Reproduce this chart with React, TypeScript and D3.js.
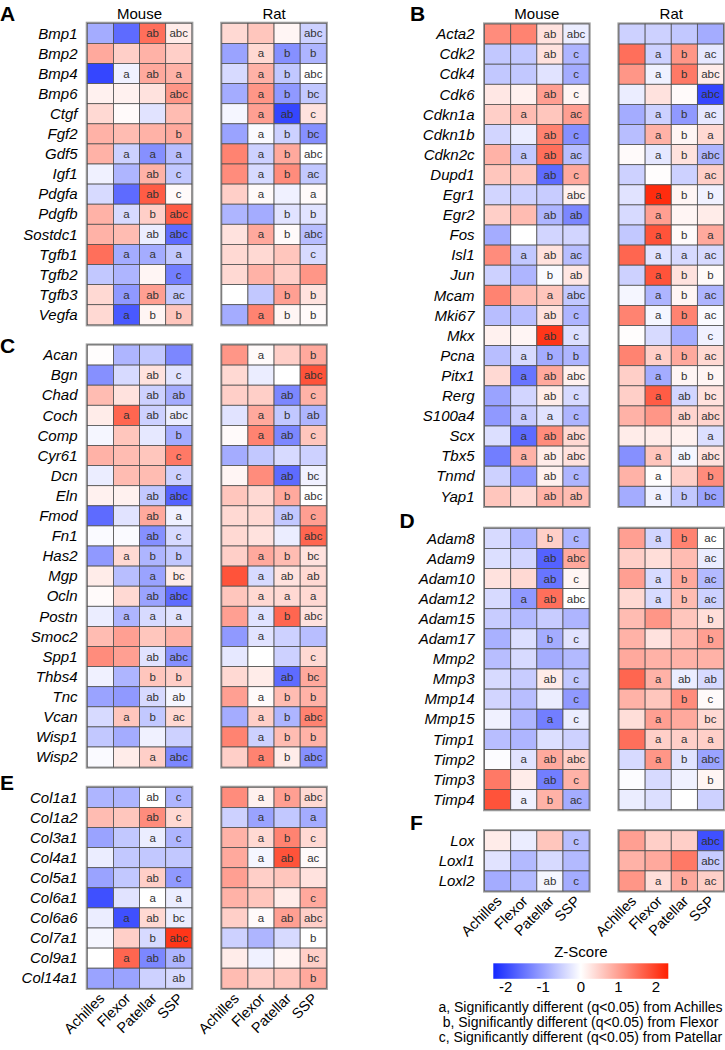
import React from 'react';
import * as d3 from 'd3';

const tissues = ['Achilles', 'Flexor', 'Patellar', 'SSP'];
const species = ['Mouse', 'Rat'];
const zTicks = [-2, -1, 0, 1, 2];
const notes = [
  'a, Significantly different (q<0.05) from Achilles',
  'b, Significantly different (q<0.05) from Flexor',
  'c, Significantly different (q<0.05) from Patellar',
];

// A - growth factors
const genesA = ['Bmp1', 'Bmp2', 'Bmp4', 'Bmp6', 'Ctgf', 'Fgf2', 'Gdf5', 'Igf1', 'Pdgfa', 'Pdgfb', 'Sostdc1', 'Tgfb1', 'Tgfb2', 'Tgfb3', 'Vegfa'];
const mouseA = [
  [-0.9, -1.6, 1.5, 0.2], [0.9, 0.5, 0.8, 0.5], [-2.0, -0.15, 0.9, 0.8], [0.15, 0.15, 0.3, 1.1],
  [0.4, 0.05, -0.3, 0.7], [0.8, 0.7, 0.8, 0.9], [0.8, -0.5, -1.2, -0.7], [-0.15, -0.8, 0.8, -0.6],
  [-0.4, -1.6, 1.7, 0.05], [0.8, -0.4, 0.5, 1.7], [0.8, 0.7, -0.2, -1.6], [1.5, -0.9, -0.9, -0.6],
  [-0.6, -0.8, 0.1, -1.4], [0.4, -1.1, 1.0, -0.6], [0.4, -1.8, 0.1, 0.6],
];
const sigMouseA = [
  ['', '', 'ab', 'abc'], ['', '', '', ''], ['', 'a', 'ab', 'a'], ['', '', '', 'abc'], ['', '', '', ''],
  ['', '', '', 'b'], ['', 'a', 'a', 'a'], ['', '', 'ab', 'c'], ['', '', 'ab', 'c'], ['', 'a', 'b', 'abc'],
  ['', '', 'ab', 'abc'], ['', 'a', 'a', 'a'], ['', '', '', 'c'], ['', 'a', 'ab', 'ac'], ['', 'a', 'b', 'b'],
];
const ratA = [
  [0.4, 0.6, 0.1, -0.5], [-1.0, 0.4, -1.2, -0.8], [-0.4, 0.8, -0.6, 0.0], [-0.9, 1.1, -1.1, -0.6],
  [-0.1, 1.0, -2.0, 0.3], [-1.0, -0.05, -0.5, -1.2], [1.3, -0.5, 0.9, 0.0], [1.2, -0.4, 1.2, -0.6],
  [0.5, 0.05, -0.15, 0.05], [-0.8, -0.9, -0.3, -0.3], [0.3, 0.9, 0.05, -0.7], [0.4, 0.4, 0.6, -0.4],
  [0.4, 0.8, 0.5, 1.1], [0.0, -0.6, 1.0, 0.3], [-0.9, 1.3, 0.1, 0.05],
];
const sigRatA = [
  ['', '', '', 'abc'], ['', 'a', 'b', 'b'], ['', 'a', 'b', 'abc'], ['', 'a', 'b', 'bc'], ['', 'a', 'ab', 'c'],
  ['', 'a', 'b', 'bc'], ['', 'a', 'b', 'abc'], ['', 'a', 'b', 'ac'], ['', 'a', '', 'a'], ['', '', 'b', 'b'],
  ['', 'a', 'b', 'abc'], ['', '', '', 'c'], ['', '', '', ''], ['', '', 'b', 'b'], ['', 'a', 'b', 'b'],
];

// C - matrix
const genesC = ['Acan', 'Bgn', 'Chad', 'Coch', 'Comp', 'Cyr61', 'Dcn', 'Eln', 'Fmod', 'Fn1', 'Has2', 'Mgp', 'Ocln', 'Postn', 'Smoc2', 'Spp1', 'Thbs4', 'Tnc', 'Vcan', 'Wisp1', 'Wisp2'];
const mouseC = [
  [0.02, -0.8, -0.6, -1.3], [-1.2, -0.4, 0.3, -0.3], [0.7, 0.3, -0.5, -0.9], [0.2, 1.6, -0.5, -0.2],
  [-0.1, 0.6, -0.25, -0.9], [0.8, 0.7, 0.6, 1.4], [-0.2, 0.7, 0.7, -0.5], [0.15, 0.15, -0.6, -1.7],
  [-1.6, -0.3, 0.9, -0.15], [-0.05, -0.05, -1.2, -0.4], [-1.1, 0.4, -0.8, -0.6], [0.2, -0.7, -1.0, 0.2],
  [0.05, 0.4, -1.0, -1.6], [-0.2, -0.8, -0.4, -0.3], [0.7, 1.0, 0.6, 0.8], [1.2, 1.0, -0.3, -1.2],
  [-0.15, -0.8, 0.6, 0.5], [-1.0, -1.1, -0.4, -0.1], [-0.4, 0.6, -0.6, 0.4], [-0.6, -0.9, -0.15, -0.5],
  [-0.05, 0.2, 0.5, -1.3],
];
const sigMouseC = [
  ['', '', '', ''], ['', '', 'ab', 'c'], ['', '', 'ab', 'ab'], ['', 'a', 'ab', 'abc'], ['', '', '', 'b'],
  ['', '', '', 'c'], ['', '', '', 'c'], ['', '', 'ab', 'abc'], ['', '', 'ab', 'a'], ['', '', 'ab', 'c'],
  ['', 'a', 'b', 'b'], ['', '', 'a', 'bc'], ['', '', 'ab', 'abc'], ['', 'a', 'a', 'a'], ['', '', '', ''],
  ['', '', 'ab', 'abc'], ['', '', 'b', 'b'], ['', '', 'ab', 'ab'], ['', 'a', 'b', 'ac'], ['', '', '', ''],
  ['', '', 'a', 'abc'],
];
const ratC = [
  [1.1, 0.05, 0.5, 0.9], [0.4, -0.2, 0.0, 1.8], [0.5, 0.5, -1.3, 0.8], [-0.3, 0.9, -0.6, -0.8],
  [0.05, 1.3, -1.3, 0.6], [-0.9, -0.6, -0.4, -0.5], [0.1, 1.2, -1.6, -0.15], [0.6, 0.4, 0.9, 0.0],
  [0.4, 0.4, -0.6, 1.0], [0.4, 0.3, -0.2, 1.6], [0.5, 0.9, 0.7, 0.3], [1.8, -0.4, 0.3, 0.4],
  [0.6, 0.4, 0.4, 0.4], [1.0, -0.3, 1.6, 0.3], [-1.1, -0.3, -0.5, -0.7], [-0.25, 0.0, -0.5, 0.4],
  [0.4, 0.2, -1.6, 0.9], [1.0, 0.05, 0.7, 0.8], [-0.9, 0.5, -0.8, 1.3], [1.3, -0.5, 0.7, 0.8],
  [0.5, 1.3, 0.2, -1.2],
];
const sigRatC = [
  ['', 'a', '', 'b'], ['', '', '', 'abc'], ['', '', 'ab', 'c'], ['', 'a', 'b', 'ab'], ['', 'a', 'ab', 'c'],
  ['', '', '', ''], ['', '', 'ab', 'bc'], ['', '', 'b', 'abc'], ['', '', 'ab', 'c'], ['', '', '', 'abc'],
  ['', 'a', 'b', 'bc'], ['', 'a', 'ab', 'ab'], ['', 'a', 'a', 'a'], ['', 'a', 'b', 'abc'], ['', 'a', '', ''],
  ['', '', '', 'c'], ['', '', 'ab', 'bc'], ['', 'a', 'b', 'b'], ['', 'a', 'b', 'abc'], ['', 'a', 'b', 'b'],
  ['', 'a', 'b', 'abc'],
];

// E - collagens
const genesE = ['Col1a1', 'Col1a2', 'Col3a1', 'Col4a1', 'Col5a1', 'Col6a1', 'Col6a6', 'Col7a1', 'Col9a1', 'Col14a1'];
const mouseE = [
  [-0.8, -0.8, 0.0, -0.8], [0.7, 0.6, 1.2, 0.4], [-1.0, -0.6, -0.2, -0.8], [-0.2, -0.6, -0.6, -0.6],
  [-1.0, -0.6, 0.5, -1.1], [-1.9, -0.3, 0.0, -0.2], [-0.2, -1.9, 0.4, -0.2], [-0.1, 0.5, -0.4, 2.1],
  [0.0, 1.6, -1.3, -0.8], [-1.0, -1.0, -0.5, -0.4],
];
const sigMouseE = [
  ['', '', 'ab', 'c'], ['', '', 'ab', 'c'], ['', '', 'a', 'c'], ['', '', '', ''], ['', '', 'ab', 'c'],
  ['', '', 'a', 'a'], ['', 'a', 'ab', 'bc'], ['', '', 'b', 'abc'], ['', 'a', 'ab', 'ab'], ['', '', '', 'ab'],
];
const ratE = [
  [1.2, 0.15, 1.0, 0.4], [-0.5, -1.0, -0.6, -0.9], [0.8, 0.4, 1.3, 0.4], [0.9, -0.1, 1.8, 0.05],
  [1.0, 0.5, 0.6, 0.3], [0.8, 0.6, 0.2, 0.9], [0.5, 0.05, 1.0, 0.5], [-0.5, -0.8, -0.4, 0.0],
  [0.2, -0.15, 0.1, 0.5], [0.7, 0.5, 0.6, 0.9],
];
const sigRatE = [
  ['', 'a', 'b', 'abc'], ['', 'a', '', 'a'], ['', 'a', 'b', 'c'], ['', 'a', 'ab', 'ac'], ['', '', '', ''],
  ['', '', '', 'c'], ['', 'a', 'ab', 'abc'], ['', '', '', 'b'], ['', '', '', 'bc'], ['', '', '', 'b'],
];

// B - transcription / cell cycle
const genesB = ['Acta2', 'Cdk2', 'Cdk4', 'Cdk6', 'Cdkn1a', 'Cdkn1b', 'Cdkn2c', 'Dupd1', 'Egr1', 'Egr2', 'Fos', 'Isl1', 'Jun', 'Mcam', 'Mki67', 'Mkx', 'Pcna', 'Pitx1', 'Rerg', 'S100a4', 'Scx', 'Tbx5', 'Tnmd', 'Yap1'];
const mouseB = [
  [1.2, 1.3, 0.3, -0.2], [-0.6, -0.6, 0.3, -0.8], [-0.6, -0.6, -0.3, -0.9], [0.25, 0.15, 1.0, 0.1],
  [0.5, 0.7, 0.6, 1.0], [-0.45, -0.2, 1.3, -1.2], [0.8, -0.6, 1.5, -0.7], [0.6, 0.6, -1.6, 0.9],
  [-0.45, -0.5, -0.55, 0.15], [0.5, 0.7, -0.8, -1.3], [-0.9, 0.0, -0.45, -0.45], [1.2, -0.6, 0.3, -0.7],
  [-0.5, -0.8, -0.05, 0.25], [1.3, 0.7, 0.6, -0.6], [-0.7, -0.7, 0.3, -0.8], [0.15, 0.1, 2.1, -0.35],
  [-0.7, -0.4, -0.9, -0.8], [0.4, -1.5, 0.9, 0.15], [-1.0, -0.45, 0.2, -0.4], [-1.1, -0.55, -0.3, -0.8],
  [-0.35, -1.6, 1.2, 0.4], [-1.4, 0.8, 0.2, 0.3], [-0.5, -1.1, 0.15, -0.8], [0.6, 0.4, 0.8, 0.7],
];
const sigMouseB = [
  ['', '', 'ab', 'abc'], ['', '', 'ab', 'c'], ['', '', '', 'c'], ['', '', 'ab', 'c'], ['', 'a', '', 'ac'],
  ['', '', 'ab', 'c'], ['', 'a', 'ab', 'ac'], ['', '', 'ab', 'c'], ['', '', '', 'abc'], ['', '', 'ab', 'ab'],
  ['', '', '', ''], ['', 'a', 'ab', 'ac'], ['', '', 'b', 'ab'], ['', '', 'a', 'abc'], ['', '', 'ab', 'c'],
  ['', '', 'ab', 'c'], ['', 'a', 'b', 'b'], ['', 'a', 'ab', 'abc'], ['', '', 'ab', 'c'], ['', 'a', 'a', 'c'],
  ['', 'a', 'ab', 'abc'], ['', 'a', 'ab', 'abc'], ['', '', 'ab', 'c'], ['', '', 'ab', 'ab'],
];
const ratB = [
  [-0.5, -0.5, -0.6, -0.9], [1.5, -0.5, 1.1, -0.25], [1.1, -0.15, 1.4, 0.2], [-0.2, 0.3, 0.05, -2.0],
  [-0.9, -0.5, -1.1, -0.25], [-0.7, 0.8, 0.1, 0.4], [0.05, -0.25, 0.3, -0.8], [-0.5, 0.02, -0.5, 0.5],
  [-0.3, 2.2, 0.1, -0.15], [-0.4, 1.0, 0.1, 0.2], [-0.6, 1.8, 0.05, 0.9], [1.6, -0.3, -0.4, -0.4],
  [-0.5, 1.8, 0.3, 0.05], [-0.1, -0.8, 0.1, -0.8], [1.3, -0.1, 1.3, -0.05], [0.02, -0.4, -0.9, -0.15],
  [1.3, 0.5, 0.9, 0.4], [0.5, -0.9, 0.1, 0.1], [0.5, 1.7, -0.45, 0.3], [0.8, 1.1, 0.45, 0.45],
  [0.2, 0.2, 0.15, -0.35], [-1.2, 0.6, -0.1, 0.3], [0.8, 0.02, 0.5, 1.2], [-0.9, -0.15, -0.6, -1.0],
];
const sigRatB = [
  ['', '', '', ''], ['', 'a', 'b', 'ac'], ['', 'a', 'b', 'abc'], ['', '', '', 'abc'], ['', 'a', 'b', 'ac'],
  ['', 'a', 'b', 'a'], ['', 'a', 'b', 'abc'], ['', '', '', 'ac'], ['', 'a', 'b', 'b'], ['', 'a', '', ''],
  ['', 'a', 'b', 'a'], ['', 'a', 'a', 'ac'], ['', 'a', 'b', 'b'], ['', 'a', 'b', 'ac'], ['', 'a', 'b', 'ac'],
  ['', '', '', 'c'], ['', 'a', 'b', 'ac'], ['', 'a', 'b', 'b'], ['', 'a', 'ab', 'bc'], ['', '', 'ab', 'abc'],
  ['', '', '', 'a'], ['', 'a', 'ab', 'abc'], ['', 'a', '', 'b'], ['', 'a', 'b', 'bc'],
];

// D - proteases
const genesD = ['Adam8', 'Adam9', 'Adam10', 'Adam12', 'Adam15', 'Adam17', 'Mmp2', 'Mmp3', 'Mmp14', 'Mmp15', 'Timp1', 'Timp2', 'Timp3', 'Timp4'];
const mouseD = [
  [-0.4, -0.8, 0.5, -0.8], [-0.35, -0.45, -1.7, 0.9], [0.3, 0.4, -1.5, 0.1], [-0.4, -1.1, 1.5, 0.0],
  [-0.55, -0.75, -0.55, -0.8], [-0.85, -0.35, -0.9, -0.3], [-0.7, -0.4, -0.9, -0.75], [-0.4, -0.55, 0.2, -0.6],
  [-0.45, -0.7, -0.2, -1.1], [-0.15, -0.8, -1.4, -0.2], [-0.7, -0.8, -0.35, -0.5], [-0.03, -0.3, 0.9, 0.5],
  [1.4, 0.2, -1.4, 0.8], [1.8, -0.15, 0.8, -0.9],
];
const sigMouseD = [
  ['', '', 'b', 'c'], ['', '', 'ab', 'abc'], ['', '', 'ab', 'c'], ['', 'a', 'ab', 'abc'], ['', '', '', ''],
  ['', '', 'b', 'c'], ['', '', '', ''], ['', '', 'ab', 'c'], ['', '', '', 'c'], ['', '', 'a', 'c'],
  ['', '', '', ''], ['', 'a', 'ab', 'abc'], ['', '', 'ab', 'c'], ['', 'a', 'b', 'ac'],
];
const ratD = [
  [1.0, -0.45, 1.3, 0.0], [0.5, 0.35, 0.7, -0.2], [1.0, -0.4, 0.9, -0.75], [0.4, -0.4, 0.7, -0.5],
  [0.7, 1.1, 0.6, 0.35], [0.8, 0.3, 0.7, 1.0], [0.9, 0.8, 0.8, 0.8], [1.6, 0.8, -0.2, -0.4],
  [0.8, 0.6, 1.2, 0.05], [0.35, 1.0, 0.9, 0.4], [1.5, 0.5, 0.5, 0.5], [-0.4, 1.1, -0.3, -1.0],
  [-0.03, -0.4, -0.15, 0.1], [-0.2, -0.35, 0.0, -0.5],
];
const sigRatD = [
  ['', 'a', 'b', 'ac'], ['', '', '', 'ac'], ['', 'a', 'b', 'ac'], ['', 'a', 'b', 'ac'], ['', '', '', 'b'],
  ['', '', '', 'b'], ['', '', '', ''], ['', 'a', 'ab', 'ab'], ['', '', 'b', 'c'], ['', 'a', '', 'bc'],
  ['', 'a', 'a', 'a'], ['', 'a', 'b', 'abc'], ['', '', '', 'b'], ['', '', '', ''],
];

// F - crosslinking
const genesF = ['Lox', 'Loxl1', 'Loxl2'];
const mouseF = [[0.2, -0.2, 0.6, -0.7], [-0.3, -0.75, -0.4, -0.75], [-0.9, -0.75, -0.1, -0.9]];
const sigMouseF = [['', '', '', 'c'], ['', '', '', ''], ['', '', 'ab', 'c']];
const ratF = [[1.0, 0.5, 0.5, -1.9], [0.8, 0.9, 1.4, -0.55], [1.1, 0.35, 0.9, 0.5]];
const sigRatF = [['', '', '', 'abc'], ['', '', '', 'abc'], ['', 'a', 'b', 'ac']];

const FONT = 'Liberation Sans, Arial, Helvetica, sans-serif';
const ROW = 20.1;
const GRID_W = 104.5;

const color = d3.scaleLinear<string>()
  .domain([-2.33, 0, 2.33])
  .range(['#1428ff', '#ffffff', '#ff2000'])
  .clamp(true);

const Heatmap = ({ x0, y0, values, letters, title, axis }) => {
  const xs = d3.scaleBand().domain(tissues).range([x0, x0 + GRID_W]);
  const ys = d3.scaleBand().domain(d3.range(values.length).map(String)).range([y0, y0 + values.length * ROW]);
  const bw = xs.bandwidth();
  const bh = ys.bandwidth();
  const bottom = y0 + values.length * ROW;
  return (
    <g>
      {title && (
        <text x={x0 + GRID_W / 2} y={18.5} textAnchor="middle" fontSize={15}>{title}</text>
      )}
      <rect x={x0 - 0.8} y={y0 - 0.8} width={GRID_W + 1.6} height={bottom - y0 + 1.6}
        fill="none" stroke="#a0a0a0" strokeWidth={1.6} />
      {values.map((row, i) => row.map((v, j) => (
        <g key={`${i}-${j}`}>
          <rect x={xs(tissues[j])} y={ys(String(i))} width={bw} height={bh}
            fill={color(v)} stroke="#505050" strokeWidth={0.8} />
          {letters[i][j] && (
            <text x={xs(tissues[j]) + bw / 2} y={ys(String(i)) + bh / 2 + 4}
              textAnchor="middle" fontSize={11.5} fill="#333">{letters[i][j]}</text>
          )}
        </g>
      )))}
      {axis && tissues.map(t => {
        const tx = xs(t) + bw / 2 + 5;
        const ty = bottom + 11;
        return (
          <text key={t} x={tx} y={ty} textAnchor="end" fontSize={14.5}
            transform={`rotate(-45, ${tx}, ${ty})`}>{t}</text>
        );
      })}
    </g>
  );
};

const Panel = ({ label, lx, ly, genes, textX, mouseX, ratX, top, mouse, sigMouse, rat, sigRat, titles, axis }) => (
  <g>
    <text x={lx} y={ly} fontSize={21} fontWeight="bold">{label}</text>
    {genes.map((g, i) => (
      <text key={g} x={textX} y={top + i * ROW + ROW / 2 + 5.2} textAnchor="end"
        fontSize={15} fontStyle="italic">{g}</text>
    ))}
    <Heatmap x0={mouseX} y0={top} values={mouse} letters={sigMouse} title={titles ? species[0] : null} axis={axis} />
    <Heatmap x0={ratX} y0={top} values={rat} letters={sigRat} title={titles ? species[1] : null} axis={axis} />
  </g>
);

const Legend = () => {
  const zx = d3.scaleLinear().domain([-2.33, 2.33]).range([493.3, 668.3]);
  const stops = d3.range(-2.33, 2.34, 0.233);
  return (
    <g>
      <defs>
        <linearGradient id="zgrad" x1="0" x2="1" y1="0" y2="0">
          {stops.map((s, i) => (
            <stop key={i} offset={`${(i / (stops.length - 1)) * 100}%`} stopColor={color(s)} />
          ))}
        </linearGradient>
      </defs>
      <text x={580.8} y={957} textAnchor="middle" fontSize={15}>Z-Score</text>
      <rect x={zx(-2.33)} y={963.3} width={zx(2.33) - zx(-2.33)} height={15.5} fill="url(#zgrad)" />
      {zTicks.map(t => (
        <text key={t} x={zx(t)} y={992} textAnchor="middle" fontSize={15}>{t}</text>
      ))}
      {notes.map((n, i) => (
        <text key={n} x={580.5} y={1012 + i * 15} textAnchor="middle" fontSize={14}>{n}</text>
      ))}
    </g>
  );
};

export default function App() {
  const L = { textX: 77.5, mouseX: 87.3, ratX: 221.8 };
  const R = { textX: 474.5, mouseX: 484.6, ratX: 619 };
  return (
    <svg width={725} height={1050} style={{ position: 'absolute', left: 0, top: 0, background: '#fff' }}
      fontFamily={FONT}>
      <Panel label="A" lx={0} ly={20.5} genes={genesA} top={23.3} {...L}
        mouse={mouseA} sigMouse={sigMouseA} rat={ratA} sigRat={sigRatA} titles axis={false} />
      <Panel label="C" lx={0} ly={352.7} genes={genesC} top={345} {...L}
        mouse={mouseC} sigMouse={sigMouseC} rat={ratC} sigRat={sigRatC} titles={false} axis={false} />
      <Panel label="E" lx={0} ly={789.5} genes={genesE} top={787.3} {...L}
        mouse={mouseE} sigMouse={sigMouseE} rat={ratE} sigRat={sigRatE} titles={false} axis />
      <Panel label="B" lx={410} ly={20.7} genes={genesB} top={24} {...R}
        mouse={mouseB} sigMouse={sigMouseB} rat={ratB} sigRat={sigRatB} titles axis={false} />
      <Panel label="D" lx={399.5} ly={527.7} genes={genesD} top={528.3} {...R}
        mouse={mouseD} sigMouse={sigMouseD} rat={ratD} sigRat={sigRatD} titles={false} axis={false} />
      <Panel label="F" lx={410} ly={829.5} genes={genesF} top={830.7} {...R}
        mouse={mouseF} sigMouse={sigMouseF} rat={ratF} sigRat={sigRatF} titles={false} axis />
      <Legend />
    </svg>
  );
}
